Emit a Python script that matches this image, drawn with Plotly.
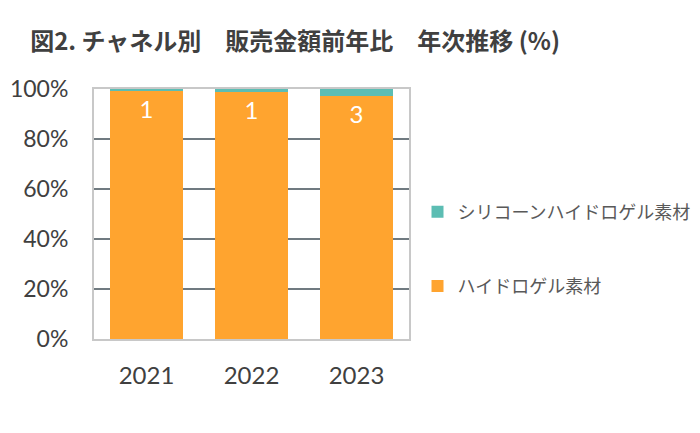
import plotly.graph_objects as go

years = ["2021", "2022", "2023"]
hydrogel = [99.4, 98.9, 97.1]
silicone = [0.6, 1.1, 2.9]
silicone_labels = ["1", "1", "3"]
y_ticks = [0, 20, 40, 60, 80, 100]
y_tick_labels = ["0%", "20%", "40%", "60%", "80%", "100%"]

fig = go.Figure()
fig.add_trace(go.Bar(
    x=years, y=hydrogel, name="ハイドロゲル素材",
    marker=dict(color="#FFA42F", line=dict(width=0)),
    text=silicone_labels, textposition="inside", insidetextanchor="end",
    textfont=dict(family="Lato", size=24, color="white"),
    legendgroup="b", legendrank=2, hoverinfo="skip",
))
fig.add_trace(go.Bar(
    x=years, y=silicone, name="シリコーンハイドロゲル素材",
    marker=dict(color="#5CBDB3", line=dict(width=0)),
    legendgroup="a", legendrank=1, hoverinfo="skip",
))

fig.update_layout(
    width=692, height=425,
    barmode="stack", bargap=0.3,
    plot_bgcolor="white", paper_bgcolor="white",
    margin=dict(l=86, r=291, t=81, b=94, autoexpand=False),
    title=dict(text="<b>図2. チャネル別　販売金額前年比　年次推移 (%)</b>",
               x=0.032, xanchor="left", y=0.92, yanchor="middle",
               font=dict(family="Noto Sans CJK JP", size=24, color="#404040")),
    legend=dict(x=1.027, xanchor="left", y=0.36, yanchor="middle",
                traceorder="grouped", tracegroupgap=48,
                font=dict(family="Noto Sans CJK JP", size=18, color="#595959"),
                itemwidth=30),
    showlegend=True,
    uniformtext=dict(mode="show", minsize=8),
)
fig.update_xaxes(
    automargin=False,
    showline=True, mirror=True, linecolor="#C8C8C8", linewidth=2,
    ticks="", tickfont=dict(family="Lato", size=24, color="#404040"),
    ticklabelstandoff=14,
)
fig.update_yaxes(
    automargin=False,
    range=[0, 100], tickvals=y_ticks, ticktext=y_tick_labels,
    showgrid=True, gridcolor="#707A80", gridwidth=2,
    showline=True, mirror=True, linecolor="#C8C8C8", linewidth=2,
    zeroline=False, ticks="",
    tickfont=dict(family="Lato", size=23, color="#404040"),
    ticklabelstandoff=19,
)

fig.write_html("out.html")
